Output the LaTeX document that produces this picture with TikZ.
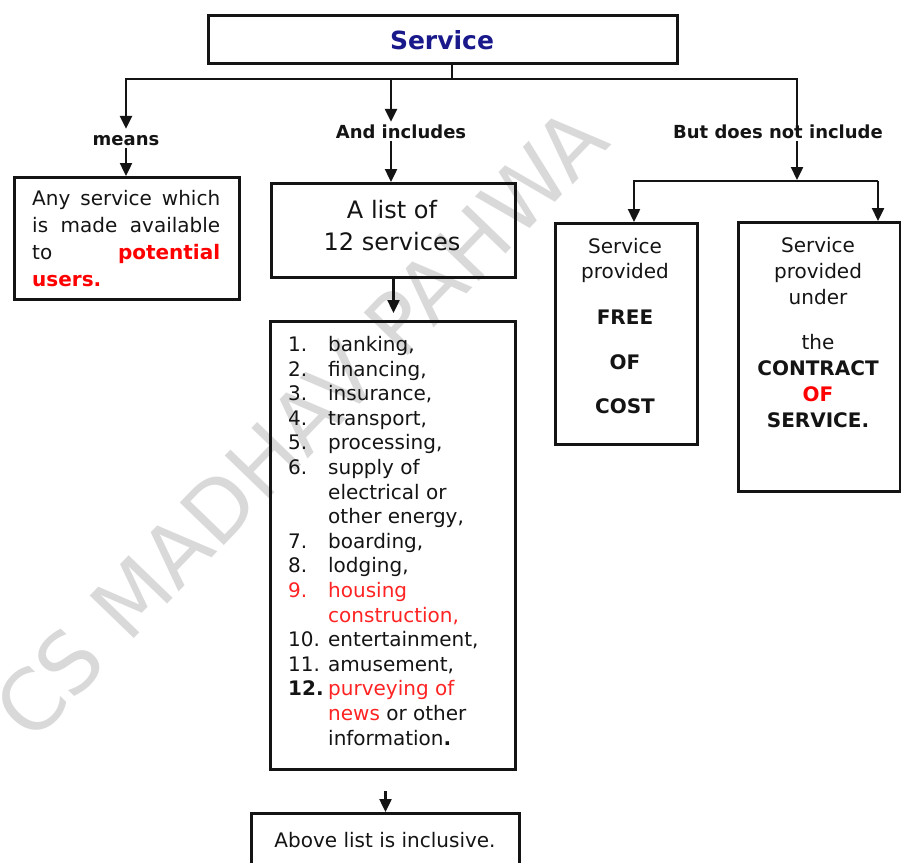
\documentclass[tikz,border=0pt]{standalone}
\usepackage{fontspec}
\setmainfont{DejaVu Sans}
\usetikzlibrary{arrows.meta}
\definecolor{navy}{RGB}{25,25,140}
\definecolor{redA}{RGB}{255,0,0}
\definecolor{redB}{RGB}{255,35,35}
\definecolor{ink}{RGB}{20,20,20}
\newcommand\mytab[2][c]{\begin{tabular}[t]{@{}#1@{}}#2\end{tabular}}
\begin{document}
\begin{tikzpicture}[x=1pt,y=-1pt,
  box/.style={draw=ink, line width=3pt, inner sep=0pt, anchor=north west},
  conn/.style={draw=ink, line width=2.4pt},
  arr/.style={conn, -{Triangle[width=12pt,length=13pt]}},
  lbl/.style={font=\fontsize{18}{21}\selectfont\bfseries, text height=13pt, text depth=0pt, inner ysep=3pt, inner xsep=2pt, anchor=base, text=ink},
  txt/.style={inner sep=0pt, text=ink, font=\fontsize{20}{24}\selectfont},
]
\useasboundingbox (0,0) rectangle (901,862);
% watermark
\node[text=black!15, font=\fontsize{84}{90}\selectfont, rotate=46, inner sep=0pt] (wm) at (300,423) {CS MADHAV PAHWA};

% boxes
\node[box, minimum width=469pt, minimum height=48pt] (service) at (207,14) {};
\node[box, minimum width=225pt, minimum height=122pt] (anybox) at (13,176) {};
\node[box, minimum width=244pt, minimum height=94pt] (listof) at (270,182) {};
\node[box, minimum width=245pt, minimum height=448pt] (list) at (269,320) {};
\node[box, minimum width=268pt, minimum height=70pt] (bottom) at (250,812) {};
\node[box, minimum width=142pt, minimum height=221pt] (boxA) at (554,222) {};
\node[box, minimum width=162pt, minimum height=269pt] (boxB) at (737,221) {};

% texts
\node[txt, anchor=base, font=\fontsize{25}{30}\selectfont\bfseries, text=navy] (servicet) at (442,49) {Service};
\node[txt, anchor=base west, font=\fontsize{20}{27}\selectfont] (anyt) at (32,205)
  {\mytab[l]{\makebox[188pt][s]{Any service which}\\
   \makebox[188pt][s]{is made available}\\
   \makebox[188pt][s]{to {\color{redA}\bfseries potential}}\\
   {\color{redA}\bfseries users.}}};
\node[txt, anchor=base, font=\fontsize{24}{32}\selectfont] (listoft) at (392,218) {\mytab{A list of\\12 services}};
\node[txt, anchor=base west, font=\fontsize{20}{24.6}\selectfont] (listt) at (288,351.5)
  {\begin{tabular}[t]{@{}l@{}l@{}}
   \makebox[40pt][l]{1.} & banking,\\
   2. & financing,\\
   3. & insurance,\\
   4. & transport,\\
   5. & processing,\\
   6. & supply of\\
      & electrical or\\
      & other energy,\\
   7. & boarding,\\
   8. & lodging,\\
   \textcolor{redB}{9.} & \textcolor{redB}{housing}\\
      & \textcolor{redB}{construction,}\\
   10. & entertainment,\\
   11. & amusement,\\
   \textbf{12.} & \textcolor{redB}{purveying of}\\
      & \textcolor{redB}{news} or other\\
      & information\textbf{.}
  \end{tabular}};
\node[txt, anchor=base, font=\fontsize{20}{24}\selectfont] (bottomt) at (385,847) {Above list is inclusive.};
\node[txt, anchor=base, font=\fontsize{20}{25.5}\selectfont] (boxAt) at (625,253)
  {\mytab{Service\\provided\\[20pt] \textbf{FREE}\\[19.5pt] \textbf{OF}\\[18.5pt] \textbf{COST}}};
\node[txt, anchor=base, font=\fontsize{20}{26}\selectfont] (boxBt) at (818,252)
  {\mytab{Service\\provided\\under\\[19pt] the\\ \textbf{CONTRACT}\\ {\color{redA}\bfseries OF}\\ \textbf{SERVICE.}}};

% labels
\node[lbl] (means) at (126,145) {means};
\node[lbl] (incl) at (401,138) {And includes};
\node[lbl] (notinc) at (778,138) {But does not include};

% connectors
\coordinate (js) at (452,79);
\coordinate (jl) at (126,79);
\coordinate (jm) at (391,79);
\coordinate (jr) at (797,79);
\coordinate (jr2) at (797,180);
\coordinate (ja) at (634,181);
\coordinate (jb) at (878,181);
\draw[conn] (js |- service.south) -- (js);
\draw[arr, line join=miter] ([yshift=-8pt]jr |- notinc.north) -- (jr) -- (jl) -- (jl |- means.north);
\draw[arr] (jm) -- (jm |- incl.north);
\draw[arr] (jl |- means.south) -- (jl |- anybox.north);
\draw[arr] (jm |- incl.south) -- (jm |- listof.north);
\draw[arr] (jr |- notinc.south) -- (jr2);
\draw[arr, line join=miter] (jb) -- (ja) -- (ja |- boxA.north);
\draw[arr] (jb) -- (jb |- boxB.north);
\draw[arr, shorten >=7pt] (listof.south) -- (listof.south |- list.north);
\draw[arr, shorten <=20pt] (bottom.north |- list.south) -- (bottom.north);
\end{tikzpicture}
\end{document}
